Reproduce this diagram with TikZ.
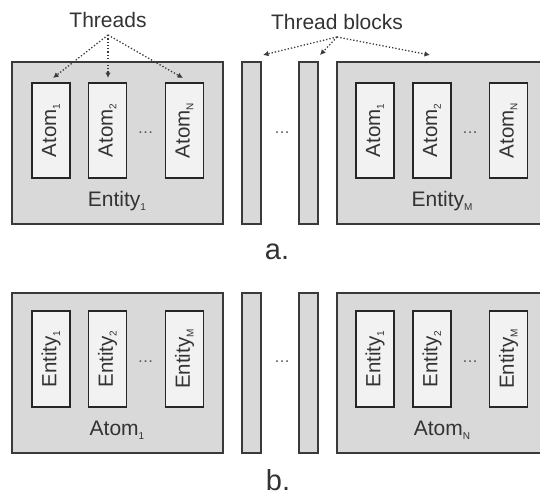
\documentclass[tikz,border=0pt]{standalone}
\usepackage{fontspec}
\setmainfont{Liberation Sans}
\usetikzlibrary{arrows.meta}
\definecolor{outerfill}{HTML}{D9D9D9}
\definecolor{innerfill}{HTML}{F2F2F2}
\definecolor{linec}{HTML}{3A3A3A}
\definecolor{textc}{HTML}{333333}
\newcommand\sbx[1]{\raisebox{-0.35ex}{\fontsize{10}{10}\selectfont #1}}
\begin{document}
\begin{tikzpicture}[x=1pt,y=-1pt,
  outerbox/.style={draw=linec,fill=outerfill,line width=1.8pt,minimum width=211pt,minimum height=#1,inner sep=0pt},
  barbox/.style={draw=linec,fill=outerfill,line width=1.8pt,minimum width=19pt,minimum height=#1,inner sep=0pt},
  innerbox/.style={draw=black!85,fill=innerfill,line width=1.7pt,minimum width=38pt,minimum height=#1,inner sep=0pt},
  rlab/.style={rotate=90,text=textc,font=\fontsize{20.5}{20.5}\selectfont,inner sep=0pt},
  lab/.style={text=textc,font=\fontsize{21}{21}\selectfont,inner sep=0pt},
  dotsl/.style={text=textc!85,font=\fontsize{16}{16}\selectfont,inner sep=0pt},
  darr/.style={dotted,line width=1.3pt,color=linec,-{Latex[length=5.5pt,width=5.5pt]}},
  partlab/.style={text=textc,font=\fontsize{29}{29}\selectfont,inner sep=0pt}]
\useasboundingbox (0,0) rectangle (540,495);
\begin{scope}
\clip (0,0) rectangle (540,495);
% ---------- a ----------
\node[outerbox=162pt] (e1) at (117.5,143) {};
\node[barbox=162pt] (ba1) at (251.5,143) {};
\node[barbox=162pt] (ba2) at (308.5,143) {};
\node[outerbox=162pt] (eM) at (442.5,143) {};
\node[innerbox=95pt] (a11) at (51,130.5) {};
\node[innerbox=95pt] (a12) at (107.5,130.5) {};
\node[innerbox=95pt] (a1N) at (184.5,130.5) {};
\node[innerbox=95pt] (aM1) at (375,130.5) {};
\node[innerbox=95pt] (aM2) at (432,130.5) {};
\node[innerbox=95pt] (aMN) at (508.5,130.5) {};
\node[rlab] (t11) at (a11) {Atom\sbx{1}};
\node[rlab] (t12) at (a12) {Atom\sbx{2}};
\node[rlab] (t1N) at (a1N) {Atom\sbx{N}};
\node[rlab] (tM1) at (aM1) {Atom\sbx{1}};
\node[rlab] (tM2) at (aM2) {Atom\sbx{2}};
\node[rlab] (tMN) at (aMN) {Atom\sbx{N}};
\node[dotsl] (d1) at (145.5,133) {\dots};
\node[dotsl] (d2) at (282,133) {\dots};
\node[dotsl] (d3) at (470,133) {\dots};
\node[lab] (le1) at (117,201) {Entity\sbx{1}};
\node[lab] (leM) at (442,201) {Entity\sbx{M}};
\node[partlab] (ca) at (277,252) {a.};
% labels and arrows
\node[lab] (thr) at (108,20) {Threads};
\node[lab] (tb) at (337,22) {Thread blocks};
\coordinate (o1) at (108,35);
\coordinate (o2) at (337,37);
\coordinate (p1) at (53,78);
\coordinate (p2) at (108,78);
\coordinate (p3) at (183,78);
\coordinate (q1) at (263,55);
\coordinate (q2) at (320,55);
\coordinate (q3) at (430,55);
\draw[darr] (o1) -- (p1);
\draw[darr] (o1) -- (p2);
\draw[darr] (o1) -- (p3);
\draw[darr] (o2) -- (q1);
\draw[darr] (o2) -- (q2);
\draw[darr] (o2) -- (q3);
% ---------- b ----------
\node[outerbox=160pt] (b1) at (117.5,373) {};
\node[barbox=160pt] (bb1) at (251.5,373) {};
\node[barbox=160pt] (bb2) at (308.5,373) {};
\node[outerbox=160pt] (bN) at (442.5,373) {};
\node[innerbox=96pt] (e11) at (51,359) {};
\node[innerbox=96pt] (e12) at (107.5,359) {};
\node[innerbox=96pt] (e1M) at (184.5,359) {};
\node[innerbox=96pt] (eN1) at (375,359) {};
\node[innerbox=96pt] (eN2) at (432,359) {};
\node[innerbox=96pt] (eNM) at (508.5,359) {};
\node[rlab] (s11) at (e11) {Entity\sbx{1}};
\node[rlab] (s12) at (e12) {Entity\sbx{2}};
\node[rlab] (s1M) at (e1M) {Entity\sbx{M}};
\node[rlab] (sN1) at (eN1) {Entity\sbx{1}};
\node[rlab] (sN2) at (eN2) {Entity\sbx{2}};
\node[rlab] (sNM) at (eNM) {Entity\sbx{M}};
\node[dotsl] (f1) at (145.5,362) {\dots};
\node[dotsl] (f2) at (282,362) {\dots};
\node[dotsl] (f3) at (470,362) {\dots};
\node[lab] (lb1) at (117,430) {Atom\sbx{1}};
\node[lab] (lbN) at (442,430) {Atom\sbx{N}};
\node[partlab] (cb) at (278,480) {b.};
\end{scope}
\end{tikzpicture}
\end{document}
